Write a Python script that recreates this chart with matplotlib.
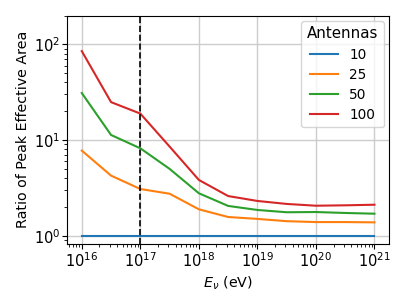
import matplotlib
matplotlib.use("Agg")
import matplotlib.pyplot as plt
import numpy as np

# neutrino energies (eV), half-decade steps
energy = [1e16, 10**16.5, 1e17, 10**17.5, 1e18, 10**18.5, 1e19, 10**19.5, 1e20, 10**20.5, 1e21]

# ratio of peak effective area relative to 10 antennas
ratio_10 = [1.0, 1.0, 1.0, 1.0, 1.0, 1.0, 1.0, 1.0, 1.0, 1.0, 1.0]
ratio_25 = [7.76, 4.25, 3.08, 2.75, 1.89, 1.57, 1.50, 1.42, 1.39, 1.39, 1.38]
ratio_50 = [31.0, 11.3, 8.2, 5.0, 2.78, 2.05, 1.86, 1.76, 1.77, 1.73, 1.70]
ratio_100 = [85.0, 24.9, 18.9, 8.55, 3.83, 2.6, 2.31, 2.15, 2.06, 2.08, 2.11]

antennas = ["10", "25", "50", "100"]
series = [ratio_10, ratio_25, ratio_50, ratio_100]
colors = ["#1f77b4", "#ff7f0e", "#2ca02c", "#d62728"]

cut_energy = 1e17

fig, ax = plt.subplots(figsize=(4.07, 3.05), dpi=100)

for label, vals, c in zip(antennas, series, colors):
    ax.plot(energy, vals, color=c, lw=1.5, label=label)

ax.axvline(cut_energy, color="black", ls="--", lw=1.2)

ax.set_xscale("log")
ax.set_yscale("log")
ax.set_ylim(0.82, 200)
ax.set_xticks([1e16, 1e17, 1e18, 1e19, 1e20, 1e21])
ax.grid(True, which="major", color="#cccccc", lw=1)
ax.tick_params(labelsize=10.5)
ax.tick_params(axis="x", which="major", pad=2)
ax.tick_params(axis="y", which="major", pad=1.5)

ax.set_xlabel(r"$E_\nu$ (eV)", fontsize=10.3, labelpad=3)
ax.set_ylabel("Ratio of Peak Effective Area", fontsize=10.3, labelpad=3)

leg = ax.legend(title="Antennas", loc="upper right", fontsize=9.8, title_fontsize=10.8,
                handlelength=2.1, labelspacing=0.45, borderaxespad=0.4)

fig.subplots_adjust(left=0.165, right=0.956, top=0.949, bottom=0.2)
fig.savefig("out.png", dpi=100)
